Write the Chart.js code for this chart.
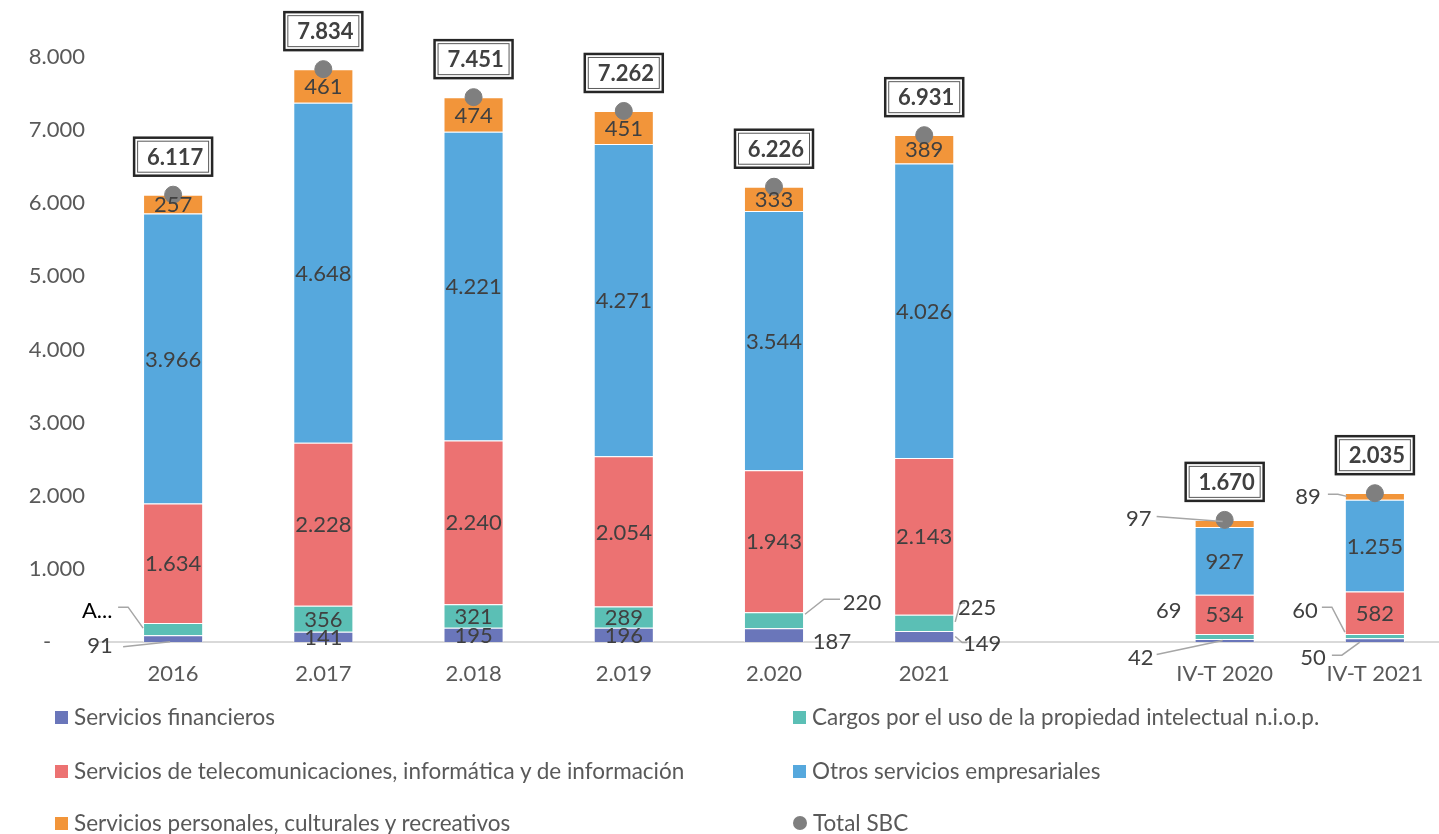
<!DOCTYPE html>
<html>
<head>
<meta charset="utf-8">
<script src="https://cdn.jsdelivr.net/npm/chart.js@4.4.0/dist/chart.umd.min.js"></script>
<style>
    html, body { margin: 0; padding: 0; background: #fff; overflow: hidden; width: 1439px; height: 834px; }
    #wrap { position: relative; width: 1460px; height: 690px; }
    #legend { position: absolute; left: 0; top: 0; width: 1439px; height: 834px; pointer-events: none; }
    .item { position: absolute; font-family: Lato, sans-serif; font-size: 22.5px; color: #595959; white-space: nowrap; line-height: 24px; }
    .mark { display: inline-block; width: 13px; height: 13px; margin-right: 6px; vertical-align: 1px; }
    .dot { border-radius: 50%; width: 14px; height: 14px; }
</style>
</head>
<body>
<div id="wrap"><canvas id="chart" width="1460" height="690"></canvas></div>
<div id="legend"></div>
<script>
// ============================================
// DATA
// ============================================
const categories = ['2016', '2.017', '2.018', '2.019', '2.020', '2021', '', 'IV-T 2020', 'IV-T 2021'];
const financieros = [91, 141, 195, 196, 187, 149, null, 42, 50];
const cargos = [169, 356, 321, 289, 220, 225, null, 69, 60];
const telecom = [1634, 2228, 2240, 2054, 1943, 2143, null, 534, 582];
const otros = [3966, 4648, 4221, 4271, 3544, 4026, null, 927, 1255];
const personales = [257, 461, 474, 451, 333, 389, null, 97, 89];
const totalSBC = [6117, 7834, 7451, 7262, 6226, 6931, null, 1670, 2035];

const seriesNames = [
    'Servicios financieros',
    'Cargos por el uso de la propiedad intelectual n.i.o.p.',
    'Servicios de telecomunicaciones, informática y de información',
    'Otros servicios empresariales',
    'Servicios personales, culturales y recreativos',
    'Total SBC'
];
const seriesColors = ['#6A76BA', '#5BBFB5', '#EC7272', '#56A8DD', '#F2953A', '#7F7F7F'];

// labels moved out of small segments: series index : category index
const callouts = {
    '0:0': { dx: -73, dy: 6, leader: [[-50, 8], [-3, 3]] },
    '1:0': { dx: -76, dy: -19, text: 'A...', color: '#000', leader: [[-55, -22], [-45, -22], [-30, -1]] },
    '0:4': { dx: 58, dy: 6 },
    '1:4': { dx: 88, dy: -18, leader: [[31, -6], [50, -21], [66, -21]] },
    '0:5': { dx: 58, dy: 6, leader: [[31, 0], [38, 6], [43, 6]] },
    '1:5': { dx: 53, dy: -16, leader: [[31, -1], [36, -20], [41, -20]] },
    '0:7': { dx: -84, dy: 16, leader: [[-68, 14], [-2, 0]] },
    '1:7': { dx: -56, dy: -26 },
    '4:7': { dx: -86, dy: -6, leader: [[-68, -7], [-2, -2]] },
    '0:8': { dx: -62, dy: 17, leader: [[-43, 15], [-33, 15], [-15, 2]] },
    '1:8': { dx: -70, dy: -26, leader: [[-53, -29], [-43, -29], [-30, -4]] },
    '4:8': { dx: -67, dy: 0, leader: [[-47, -2], [-37, -2], [-28, 0]] }
};

function fmt(v) {
    return String(Math.round(v)).replace(/\B(?=(\d{3})+(?!\d))/g, '.');
}

// ============================================
// LABEL PLUGIN
// ============================================
const labelPlugin = {
    id: 'segmentLabels',
    afterDatasetsDraw(chart) {
        const ctx = chart.ctx;
        ctx.save();
        ctx.textAlign = 'center';
        ctx.textBaseline = 'middle';
        ctx.font = '22px Lato';

        chart.data.datasets.forEach((ds, di) => {
            if (ds.type === 'line') return;
            const meta = chart.getDatasetMeta(di);
            meta.data.forEach((bar, i) => {
                const v = ds.data[i];
                if (v == null) return;
                const cx = bar.x;
                const cy = (bar.y + bar.base) / 2;
                const c = callouts[ds.seriesIndex + ':' + i];
                let tx = cx, ty = cy;
                if (c) {
                    tx += c.dx;
                    ty += c.dy;
                    if (c.leader) {
                        ctx.strokeStyle = '#A6A6A6';
                        ctx.lineWidth = 1.5;
                        ctx.beginPath();
                        c.leader.forEach((p, k) => {
                            if (k === 0) ctx.moveTo(cx + p[0], cy + p[1]);
                            else ctx.lineTo(cx + p[0], cy + p[1]);
                        });
                        ctx.stroke();
                    }
                }
                ctx.fillStyle = (c && c.color) || '#404040';
                ctx.fillText((c && c.text) || fmt(v), tx, ty + 1);
            });
        });

        // total boxes
        const lineIdx = chart.data.datasets.findIndex(d => d.type === 'line');
        const meta = chart.getDatasetMeta(lineIdx);
        ctx.font = 'bold 22px Lato';
        meta.data.forEach((pt, i) => {
            const v = totalSBC[i];
            if (v == null) return;
            const w = 78, h = 38;
            const x = pt.x - w / 2;
            const y = pt.y - 19 - h;
            ctx.fillStyle = '#fff';
            ctx.fillRect(x, y, w, h);
            ctx.strokeStyle = '#262626';
            ctx.lineWidth = 2.5;
            ctx.strokeRect(x, y, w, h);
            ctx.strokeStyle = '#595959';
            ctx.lineWidth = 1;
            ctx.strokeRect(x + 3.5, y + 3.5, w - 7, h - 7);
            ctx.fillStyle = '#404040';
            ctx.fillText(fmt(v), pt.x + 2, y + h / 2 + 1);
        });
        ctx.restore();
    }
};

// ============================================
// CHART
// ============================================
const barSeries = [financieros, cargos, telecom, otros, personales];
const datasets = [{
    type: 'line',
    label: seriesNames[5],
    data: totalSBC,
    stack: 'total',
    showLine: false,
    pointRadius: 8.5,
    pointHoverRadius: 8.5,
    pointBackgroundColor: seriesColors[5],
    pointBorderColor: seriesColors[5],
    order: 0
}];
barSeries.forEach((values, k) => {
    datasets.push({
        type: 'bar',
        label: seriesNames[k],
        seriesIndex: k,
        data: values,
        stack: 'sbc',
        backgroundColor: seriesColors[k],
        borderColor: 'rgba(255,255,255,0.55)',
        borderWidth: 1,
        barPercentage: 0.4,
        categoryPercentage: 1,
        order: 1
    });
});

new Chart(document.getElementById('chart'), {
    data: { labels: categories, datasets: datasets },
    options: {
        responsive: false,
        animation: false,
        layout: { padding: { top: 57, right: 10, left: 0, bottom: 0 } },
        plugins: {
            legend: { display: false },
            tooltip: { enabled: false }
        },
        scales: {
            x: {
                stacked: true,
                grid: { display: false, drawTicks: false },
                border: { display: true, color: '#D9D9D9', width: 2 },
                ticks: { color: '#595959', font: { family: 'Lato', size: 22 }, padding: 19, maxRotation: 0, autoSkip: false },
                afterFit: s => { s.height = 48; }
            },
            y: {
                stacked: true,
                min: 0,
                max: 8000,
                grid: { display: false, drawTicks: false },
                border: { display: false },
                ticks: {
                    stepSize: 1000,
                    color: '#595959',
                    font: { family: 'Lato', size: 22 },
                    padding: 13,
                    // accounting style: the dash for zero sits further left
                    callback: v => v === 0 ? '-      ' : fmt(v)
                },
                afterFit: s => { s.width = 98; }
            }
        }
    },
    plugins: [labelPlugin]
});

// ============================================
// LEGEND
// ============================================
const legend = document.getElementById('legend');
const legendPos = [[55, 717], [793, 717], [55, 771], [793, 771], [55, 823], [793, 823]];
seriesNames.forEach((name, k) => {
    const item = document.createElement('div');
    item.className = 'item';
    item.style.left = legendPos[k][0] + 'px';
    item.style.top = (legendPos[k][1] - 12) + 'px';
    const mark = document.createElement('span');
    mark.className = k === 5 ? 'mark dot' : 'mark';
    mark.style.background = seriesColors[k];
    item.appendChild(mark);
    item.appendChild(document.createTextNode(name));
    legend.appendChild(item);
});
</script>
</body>
</html>
